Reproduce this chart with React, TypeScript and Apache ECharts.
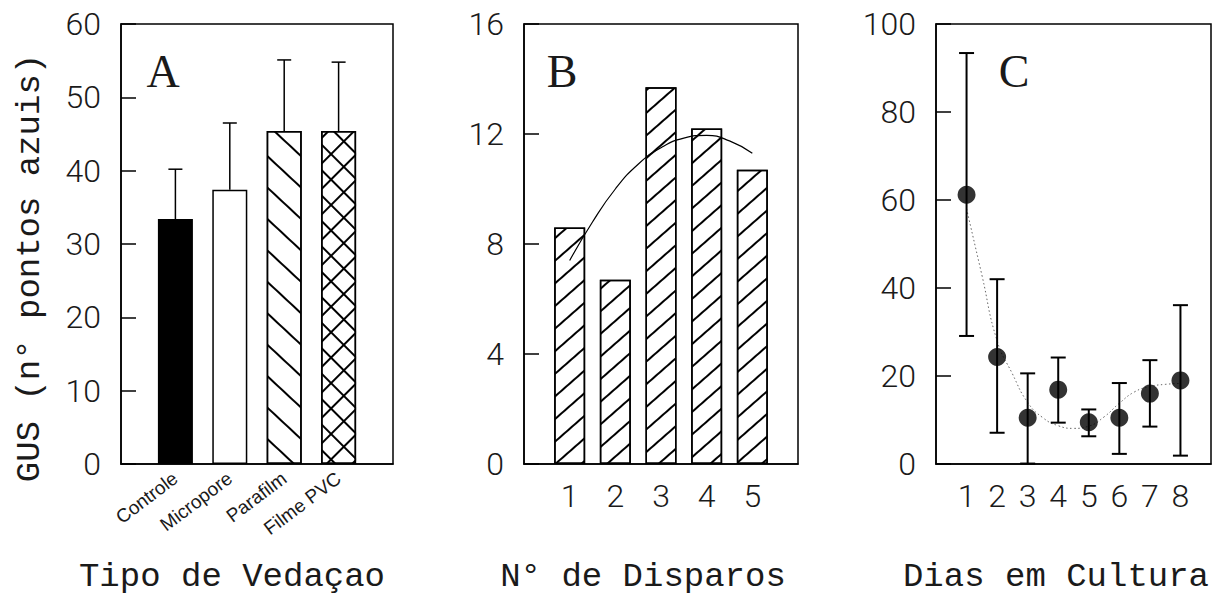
import React, { useEffect, useRef } from "react";
import * as echarts from "echarts";

// ---------- Data ----------
const aTickLabels = ["", "Controle", "Micropore", "Parafilm", "Filme PVC", ""];
const aPositions = [1, 2, 3, 4];
const aMeans = [33.4, 37.4, 45.4, 45.4];
const aErrTop = [40.2, 46.5, 55.1, 54.8];

const bShots = [1, 2, 3, 4, 5];
const bValues = [8.6, 6.7, 13.7, 12.2, 10.7];
const bFitX = [1, 1.5, 2, 2.5, 3, 3.5, 4, 4.5, 5];
const bFitY = [7.4, 8.8, 10.0, 10.9, 11.5, 11.85, 11.95, 11.75, 11.3];

const cDays = [1, 2, 3, 4, 5, 6, 7, 8];
const cMeans = [61.2, 24.3, 10.5, 16.9, 9.5, 10.5, 16.0, 19.0];
const cLow = [29.1, 7.1, 0.1, 9.4, 6.3, 2.3, 8.5, 1.9];
const cHigh = [93.4, 42.0, 20.6, 24.2, 12.4, 18.4, 23.6, 36.1];
const cFitX = [1, 1.5, 2, 2.5, 3, 3.5, 4, 4.5, 5, 5.5, 6, 6.5, 7, 7.5, 8];
const cFitY = [58, 43, 28, 20.5, 14, 10.5, 8.7, 8.1, 8.6, 10.7, 13.8, 16.4, 17.6, 18.1, 18.3];

const titles = ["Tipo de Vedaçao", "N° de Disparos", "Dias em Cultura"];
const yTitle = "GUS (n° pontos azuis)";
const panelLetters = ["A", "B", "C"];

// ---------- Styles ----------
const BLACK = "#000";
const LABEL_COLOR = "#1a1a1a";
const tickFont = { fontFamily: "Roboto", fontWeight: 300, fontSize: 32, color: LABEL_COLOR };
const axisLine = { show: true, lineStyle: { color: BLACK, width: 1.5 } };

function yAxisCfg(gridIndex: number, max: number, interval: number) {
  return {
    gridIndex,
    type: "value",
    min: 0,
    max,
    interval,
    axisLine,
    axisTick: { show: true, inside: true, length: 15, lineStyle: { color: BLACK, width: 1.5 } },
    splitLine: { show: false },
    axisLabel: { ...tickFont, margin: 20 },
  };
}

function errorRender(withLowCap: boolean, lw: number, hw: number) {
  return (params: any, api: any) => {
    const x = api.value(0);
    const lo = api.value(1);
    const hi = api.value(2);
    const pLo = api.coord([x, lo]);
    const pHi = api.coord([x, hi]);
    const style = { stroke: BLACK, lineWidth: lw };
    const children: any[] = [
      { type: "line", shape: { x1: pLo[0], y1: pLo[1], x2: pHi[0], y2: pHi[1] }, style },
      { type: "line", shape: { x1: pHi[0] - hw, y1: pHi[1], x2: pHi[0] + hw, y2: pHi[1] }, style },
    ];
    if (withLowCap) {
      children.push({ type: "line", shape: { x1: pLo[0] - hw, y1: pLo[1], x2: pLo[0] + hw, y2: pLo[1] }, style });
    }
    return { type: "group", children };
  };
}

function hatch(rotation: number, gap: number, bg: string | null) {
  return {
    symbol: "rect",
    symbolSize: 1,
    color: BLACK,
    backgroundColor: bg,
    dashArrayX: [1, 0],
    dashArrayY: [2, gap],
    rotation,
  };
}

export default function App() {
  const ref = useRef<HTMLDivElement>(null);

  useEffect(() => {
    document.body.style.margin = "0";
    if (!ref.current) return;
    const chart = echarts.init(ref.current, undefined, { renderer: "svg" });

    const grids = [
      { left: 121, top: 24, width: 272, height: 440 },
      { left: 524, top: 24, width: 274, height: 440 },
      { left: 936, top: 24, width: 275, height: 440 },
    ].map((g) => ({ ...g, show: true, borderColor: BLACK, borderWidth: 1.5, backgroundColor: "transparent" }));

    const barBase = {
      type: "bar",
      xAxisIndex: 0,
      yAxisIndex: 0,
      barWidth: 35,
      barGap: "-100%",
    };
    const border = { borderColor: BLACK, borderWidth: 1.5 };

    const option: any = {
      animation: false,
      backgroundColor: "#fff",
      grid: grids,
      xAxis: [
        {
          gridIndex: 0,
          type: "value",
          min: 0,
          max: 5,
          interval: 1,
          axisLine,
          axisTick: { show: false },
          splitLine: { show: false },
          axisLabel: {
            formatter: (v: number) => aTickLabels[Math.round(v)] || "",
            rotate: 37,
            fontSize: 19,
            margin: 12,
            color: LABEL_COLOR,
            fontFamily: "Liberation Sans",
          },
        },
        {
          gridIndex: 1,
          type: "value",
          min: 0,
          max: 6,
          interval: 1,
          axisLine,
          axisTick: { show: false },
          splitLine: { show: false },
          axisLabel: {
            ...tickFont,
            margin: 16,
            formatter: (v: number) => (bShots.includes(v) ? String(v) : ""),
          },
        },
        {
          gridIndex: 2,
          type: "value",
          min: 0,
          max: 9,
          interval: 1,
          axisLine,
          axisTick: { show: false },
          splitLine: { show: false },
          axisLabel: {
            ...tickFont,
            margin: 16,
            formatter: (v: number) => (cDays.includes(v) ? String(v) : ""),
          },
        },
      ],
      yAxis: [yAxisCfg(0, 60, 10), yAxisCfg(1, 16, 4), yAxisCfg(2, 100, 20)],
      series: [
        // Panel A bars
        { ...barBase, name: "Controle", data: [[aPositions[0], aMeans[0]]], itemStyle: { color: BLACK, ...border } },
        { ...barBase, name: "Micropore", data: [[aPositions[1], aMeans[1]]], itemStyle: { color: "#fff", ...border } },
        {
          ...barBase,
          name: "Parafilm",
          data: [[aPositions[2], aMeans[2]]],
          itemStyle: { color: "#fff", ...border, decal: hatch(0.75, 21, "#fff") },
        },
        {
          ...barBase,
          name: "Filme PVC",
          data: [[aPositions[3], aMeans[3]]],
          itemStyle: { color: "#fff", ...border, decal: hatch(-0.785, 16, "#fff") },
        },
        {
          ...barBase,
          name: "Filme PVC overlay",
          data: [[aPositions[3], aMeans[3]]],
          itemStyle: { color: "rgba(0,0,0,0)", borderWidth: 0, decal: hatch(0.785, 16, null) },
          z: 3,
        },
        {
          type: "custom",
          xAxisIndex: 0,
          yAxisIndex: 0,
          renderItem: errorRender(false, 1.5, 7),
          encode: { x: 0, y: [1, 2] },
          data: aPositions.map((p, i) => [p, aMeans[i], aErrTop[i]]),
          z: 4,
        },
        // Panel B
        {
          type: "bar",
          xAxisIndex: 1,
          yAxisIndex: 1,
          barWidth: 31,
          data: bShots.map((s, i) => [s, bValues[i]]),
          itemStyle: { color: "#fff", ...border, decal: hatch(-0.72, 15, "#fff") },
        },
        {
          type: "line",
          xAxisIndex: 1,
          yAxisIndex: 1,
          smooth: true,
          showSymbol: false,
          data: bFitX.map((x, i) => [x, bFitY[i]]),
          lineStyle: { color: BLACK, width: 1.2 },
          z: 5,
        },
        // Panel C
        {
          type: "line",
          xAxisIndex: 2,
          yAxisIndex: 2,
          smooth: true,
          showSymbol: false,
          data: cFitX.map((x, i) => [x, cFitY[i]]),
          lineStyle: { color: "#666", width: 1, type: [1.5, 2.5] },
          z: 2,
        },
        {
          type: "custom",
          xAxisIndex: 2,
          yAxisIndex: 2,
          renderItem: errorRender(true, 2, 7.5),
          encode: { x: 0, y: [1, 2] },
          data: cDays.map((d, i) => [d, cLow[i], cHigh[i]]),
          z: 3,
        },
        {
          type: "scatter",
          xAxisIndex: 2,
          yAxisIndex: 2,
          symbol: "circle",
          symbolSize: 18,
          data: cDays.map((d, i) => [d, cMeans[i]]),
          itemStyle: { color: BLACK },
          z: 4,
        },
      ],
      graphic: [
        ...titles.map((t, i) => ({
          type: "text",
          x: [232, 643, 1056][i],
          y: 577,
          style: {
            text: t,
            font: "34px 'Liberation Mono'",
            fill: LABEL_COLOR,
            textAlign: "center",
            textVerticalAlign: "middle",
          },
        })),
        {
          type: "text",
          x: 30,
          y: 268,
          rotation: Math.PI / 2,
          style: {
            text: yTitle,
            font: "34px 'Liberation Mono'",
            fill: LABEL_COLOR,
            textAlign: "center",
            textVerticalAlign: "middle",
          },
        },
        ...panelLetters.map((l, i) => ({
          type: "text",
          x: [163, 562, 1014][i],
          y: 71,
          style: {
            text: l,
            font: "46px 'Liberation Serif'",
            fill: LABEL_COLOR,
            textAlign: "center",
            textVerticalAlign: "middle",
          },
        })),
      ],
    };

    chart.setOption(option);
    return () => chart.dispose();
  }, []);

  return <div ref={ref} style={{ width: 1226, height: 606 }} />;
}
